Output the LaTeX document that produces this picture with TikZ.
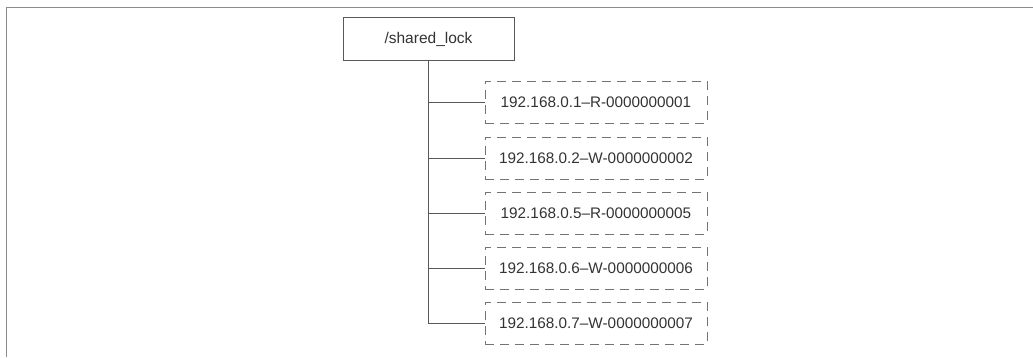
\documentclass[tikz,border=0pt]{standalone}
\usepackage{fontspec}
\setmainfont{Liberation Sans}
\begin{document}
\begin{tikzpicture}[x=1pt,y=-1pt,
  lockbox/.style={draw=black!65, line width=0.9pt, fill=white, minimum width=171pt, minimum height=43pt, inner sep=0pt, text=black!80, font=\fontsize{15.5pt}{18pt}\selectfont},
  seqbox/.style={draw=black!55, line width=0.8pt, dash pattern=on 9pt off 6pt, minimum width=222pt, minimum height=42pt, inner sep=0pt, text=black!80, font=\fontsize{15.3pt}{18pt}\selectfont},
  conn/.style={draw=black!65, line width=0.8pt},
  frame/.style={draw=black!45, line width=1pt}]
\useasboundingbox (0,0) rectangle (1033,357);
\coordinate (fbl) at (6,357);
\coordinate (ftl) at (6,7);
\coordinate (ftr) at (1033,7);
\draw[frame] (fbl) -- (ftl) -- (ftr);
\node[lockbox] (root) at (428.5,39) {/shared\_lock};
\node[seqbox] (n1) at (596,102) {192.168.0.1–R-0000000001};
\node[seqbox] (n2) at (596,158) {192.168.0.2–W-0000000002};
\node[seqbox] (n3) at (596,213) {192.168.0.5–R-0000000005};
\node[seqbox] (n4) at (596,268) {192.168.0.6–W-0000000006};
\node[seqbox] (n5) at (596,323) {192.168.0.7–W-0000000007};
\draw[conn] (root.south) -- (root.south |- n5.west) -- (n5.west);
\foreach \n in {n1,n2,n3,n4}{
  \draw[conn] (root.south |- \n.west) -- (\n.west);
}
\end{tikzpicture}
\end{document}
